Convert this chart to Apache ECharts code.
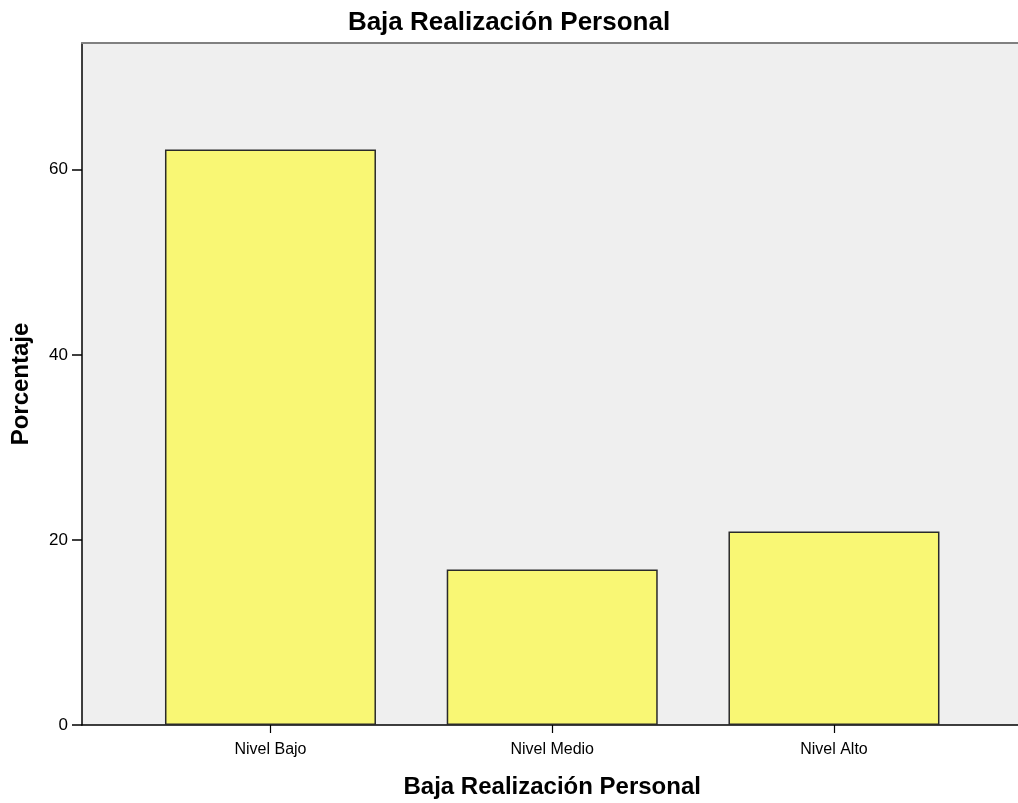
<!DOCTYPE html>
<html>
<head>
<meta charset="utf-8">
<script src="https://cdn.jsdelivr.net/npm/echarts@6/dist/echarts.min.js"></script>
<style>html,body{margin:0;padding:0;background:#fff;}#c{width:1018px;height:803px;}</style>
</head>
<body>
<div id="c"></div>
<script>
const categories = ['Nivel Bajo', 'Nivel Medio', 'Nivel Alto'];
const values = [62.2, 16.8, 20.9];
const yTicks = [0, 20, 40, 60];
const titleText = 'Baja Realización Personal';
const xName = 'Baja Realización Personal';
const yName = 'Porcentaje';

const YMAX = 73.7;
const font = '"Liberation Sans", Arial, sans-serif';
const chart = echarts.init(document.getElementById('c'), null, {renderer: 'canvas'});
chart.setOption({
  animation: false,
  backgroundColor: '#ffffff',
  title: {
    text: titleText, left: 'center', top: 5,
    textStyle: {fontFamily: font, fontSize: 26, fontWeight: 'bold', color: '#000'}
  },
  grid: [
    {left: 82, right: 0, top: 43, bottom: 78, show: true, backgroundColor: '#efefef', borderWidth: 0,
     containLabel: false, outerBoundsMode: 'none'},
    {left: 129.6, width: 845.25, top: 43, bottom: 78, containLabel: false, outerBoundsMode: 'none'}
  ],
  xAxis: [
    {type: 'value', gridIndex: 0, min: 0, max: 1, position: 'bottom',
     axisLine: {show: true, lineStyle: {color: '#000', width: 1.5}},
     axisTick: {show: false}, axisLabel: {show: false}, splitLine: {show: false}},
    {type: 'value', gridIndex: 0, min: 0, max: 1, position: 'top',
     axisLine: {show: true, lineStyle: {color: '#808080', width: 2}},
     axisTick: {show: false}, axisLabel: {show: false}, splitLine: {show: false}},
    {type: 'category', gridIndex: 1, data: categories, boundaryGap: true,
     axisLine: {show: false},
     axisTick: {show: true, alignWithLabel: true, length: 8, lineStyle: {color: '#000', width: 1.2}},
     axisLabel: {fontFamily: font, fontSize: 16, color: '#000', margin: 17},
     name: xName, nameLocation: 'middle', nameGap: 50,
     nameTextStyle: {fontFamily: font, fontSize: 24, fontWeight: 'bold', color: '#000'}}
  ],
  yAxis: [
    {type: 'value', gridIndex: 0, min: 0, max: YMAX, interval: 20,
     axisLine: {show: true, lineStyle: {color: '#000', width: 1.5}},
     axisTick: {show: true, length: 10, lineStyle: {color: '#000', width: 1.5}},
     axisLabel: {fontFamily: font, fontSize: 17, color: '#000', margin: 14, showMaxLabel: false,
       formatter: v => yTicks.includes(v) ? String(v) : ''},
     splitLine: {show: false},
     name: yName, nameLocation: 'middle', nameGap: 49,
     nameTextStyle: {fontFamily: font, fontSize: 24, fontWeight: 'bold', color: '#000'}},
    {type: 'value', gridIndex: 1, min: 0, max: YMAX, show: false, splitLine: {show: false}}
  ],
  series: [{
    type: 'bar', xAxisIndex: 2, yAxisIndex: 1, data: values, barWidth: 211,
    itemStyle: {color: '#f9f774', borderColor: '#2a2a2a', borderWidth: 1.5}
  }]
});
</script>
</body>
</html>
